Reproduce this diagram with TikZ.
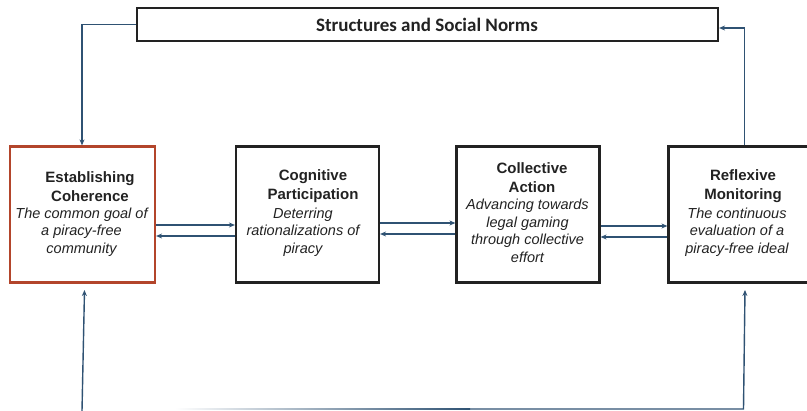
\documentclass[tikz,border=0pt]{standalone}
\usepackage{fontspec}
\setmainfont{Liberation Sans}
\newfontfamily\calib{Carlito}
\usetikzlibrary{arrows.meta,calc}
\definecolor{conn}{HTML}{2F5273}
\definecolor{ecred}{HTML}{B3452B}
\definecolor{boxk}{HTML}{222222}
\tikzset{
  x=1pt, y=-1pt,
  box/.style={draw=boxk, line width=2.2pt, minimum width=143pt, minimum height=136pt, inner sep=0pt},
  ttl/.style={align=center, font=\fontsize{15}{19}\selectfont\bfseries, text=boxk, inner sep=0pt},
  dsc/.style={align=center, font=\fontsize{14.5}{17.5}\selectfont\itshape, text=boxk, inner sep=0pt},
  conline/.style={draw=conn, line width=1.4pt},
  arr/.style={conline, -{Stealth[length=6pt,width=5pt]}},
}
\begin{document}
\begin{tikzpicture}
\useasboundingbox (0,0) rectangle (807,411);
\clip (0,0) rectangle (807,411);
% top box
\node[draw=boxk, line width=2.2pt, minimum width=581pt, minimum height=33pt, inner sep=0pt] (top) at (427.5,24.5) {};
\node[font=\calib\fontsize{19}{21}\selectfont\bfseries, text=boxk] (toptxt) at (427,25) {Structures and Social Norms};
% boxes
\node[box, draw=ecred, minimum width=145pt] (ec) at (82.5,214.5) {};
\node[box] (cp) at (307.5,214.5) {};
\node[box] (ca) at (528,214.5) {};
\node[box] (rm) at (740,214.5) {};
% texts
\node[ttl] (ect) at (90,186.5) {Establishing\\Coherence};
\node[dsc] (ecd) at (81.5,232) {The common goal of\\a piracy-free\\community};
\node[ttl] (cpt) at (313,186.5) {Cognitive\\Participation};
\node[dsc] (cpd) at (303,232) {Deterring\\rationalizations of\\piracy};
\node[ttl] (cat) at (532,177.5) {Collective\\Action};
\node[dsc] (cad) at (527.5,231) {Advancing towards\\legal gaming\\through collective\\effort};
\node[ttl] (rmt) at (743,186.5) {Reflexive\\Monitoring};
\node[dsc] (rmd) at (737,232) {The continuous\\evaluation of a\\piracy-free ideal};
% horizontal arrows
\draw[arr] (ec.east |- 0,225) -- (cp.west |- 0,225);
\draw[arr] (cp.west |- 0,236) -- (ec.east |- 0,236);
\draw[arr] (cp.east |- 0,223) -- (ca.west |- 0,223);
\draw[arr] (ca.west |- 0,234) -- (cp.east |- 0,234);
\draw[arr] (ca.east |- 0,226) -- (rm.west |- 0,226);
\draw[arr] (rm.west |- 0,237) -- (ca.east |- 0,237);
% top connectors
\draw[arr] (top.west) -| (ec.north -| 82,0);
\draw[arr] (rm.north -| 744.5,0) |- (top.east |- 0,28);
% bottom connectors
\coordinate (bl) at (82,411);
\coordinate (bs) at (175,409);
\coordinate (bm) at (470,409);
\coordinate (br) at (743.5,409);
\draw[arr] (bl) -- (84.5,290);
\shade[left color=white, right color=conn] ($(bs)+(0,-0.7)$) rectangle ($(bm)+(0,0.7)$);
\draw[arr] (bm) -- (br) -- (745,290);
\end{tikzpicture}
\end{document}
